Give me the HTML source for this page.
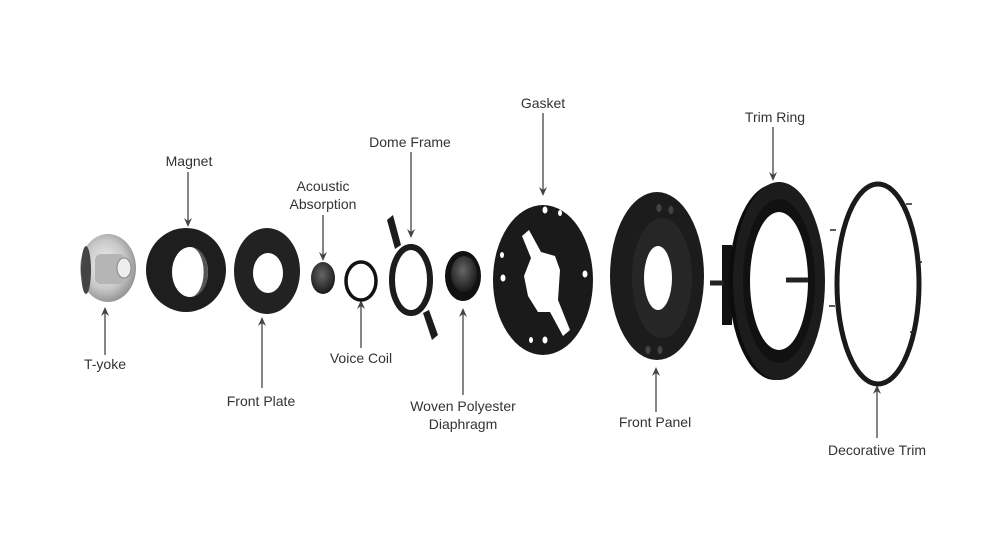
<!DOCTYPE html>
<html><head><meta charset="utf-8"><style>
html,body{margin:0;padding:0;background:#fff;width:1000px;height:541px;overflow:hidden}
svg text{font-family:"Liberation Sans",sans-serif;font-size:14px;fill:#333;text-anchor:middle}
</style></head><body>
<svg width="1000" height="541" viewBox="0 0 1000 541" xmlns="http://www.w3.org/2000/svg">
<defs>
<radialGradient id="sil" cx="0.45" cy="0.45" r="0.6"><stop offset="0" stop-color="#f2f2f2"/><stop offset="0.6" stop-color="#c8c8c8"/><stop offset="1" stop-color="#8a8a8a"/></radialGradient>
<radialGradient id="dome" cx="0.45" cy="0.4" r="0.6"><stop offset="0" stop-color="#666"/><stop offset="1" stop-color="#1a1a1a"/></radialGradient>
</defs>
<g stroke="#444" stroke-width="1.3" fill="none">
<line x1="105" y1="355" x2="105" y2="312"/>
<line x1="188" y1="172" x2="188" y2="222"/>
<line x1="262" y1="388" x2="262" y2="322"/>
<line x1="323" y1="215" x2="323" y2="256"/>
<line x1="361" y1="348" x2="361" y2="305"/>
<line x1="411" y1="152" x2="411" y2="233"/>
<line x1="463" y1="395" x2="463" y2="313"/>
<line x1="543" y1="113" x2="543" y2="191"/>
<line x1="656" y1="412" x2="656" y2="372"/>
<line x1="773" y1="127" x2="773" y2="176"/>
<line x1="877" y1="438" x2="877" y2="390"/>
</g>
<g fill="#444">
<path d="M101,316 L105,307 L109,316 L105,313Z"/>
<path d="M184,218 L188,227 L192,218 L188,221Z"/>
<path d="M258,326 L262,317 L266,326 L262,323Z"/>
<path d="M319,252 L323,261 L327,252 L323,255Z"/>
<path d="M357,309 L361,300 L365,309 L361,306Z"/>
<path d="M407,229 L411,238 L415,229 L411,232Z"/>
<path d="M459,317 L463,308 L467,317 L463,314Z"/>
<path d="M539,187 L543,196 L547,187 L543,190Z"/>
<path d="M652,376 L656,367 L660,376 L656,373Z"/>
<path d="M769,172 L773,181 L777,172 L773,175Z"/>
<path d="M873,394 L877,385 L881,394 L877,391Z"/>
</g>
<!-- T-yoke -->
<ellipse cx="108" cy="268" rx="28" ry="34" fill="url(#sil)"/>
<ellipse cx="86" cy="270" rx="5" ry="24" fill="#444"/>
<rect x="95" y="254" width="30" height="30" rx="6" fill="#b5b5b5"/>
<ellipse cx="124" cy="268" rx="7" ry="10" fill="#eee" stroke="#888"/>
<!-- Magnet -->
<ellipse cx="186" cy="270" rx="40" ry="42" fill="#1e1e1e"/>
<ellipse cx="190" cy="272" rx="18" ry="25" fill="#fff"/>
<path d="M190,247 A18,25 0 0 1 190,297 A12,22 0 0 0 190,247Z" fill="#555"/>
<!-- Front plate -->
<ellipse cx="267" cy="271" rx="33" ry="43" fill="#222"/>
<ellipse cx="268" cy="273" rx="15" ry="20" fill="#fff"/>
<!-- Acoustic -->
<ellipse cx="323" cy="278" rx="12" ry="16" fill="url(#dome)"/>
<!-- Voice coil -->
<ellipse cx="361" cy="281" rx="15" ry="19" fill="none" stroke="#111" stroke-width="3.5"/>
<!-- Dome frame -->
<path d="M387,220 L393,215 L401,245 L395,249 Z" fill="#1c1c1c"/>
<path d="M423,313 L429,310 L438,335 L432,340 Z" fill="#1c1c1c"/>
<ellipse cx="411" cy="280" rx="19" ry="33" fill="none" stroke="#1c1c1c" stroke-width="6"/>
<!-- Diaphragm -->
<ellipse cx="463" cy="276" rx="18" ry="25" fill="#111"/>
<ellipse cx="464" cy="274" rx="13" ry="18" fill="url(#dome)"/>
<!-- Gasket -->
<ellipse cx="543" cy="280" rx="50" ry="75" fill="#1a1a1a"/>
<path d="M522,236 L529,230 L541,252 L555,256 L560,270 L558,300 L570,330 L563,336 L550,312 L538,312 L528,296 L524,276 L531,258 Z" fill="#fff"/>
<g fill="#fff"><ellipse cx="545" cy="210" rx="2.5" ry="3.5"/><ellipse cx="560" cy="213" rx="2" ry="3"/><ellipse cx="502" cy="255" rx="2" ry="3"/><ellipse cx="503" cy="278" rx="2.5" ry="3.5"/><ellipse cx="585" cy="274" rx="2.5" ry="3.5"/><ellipse cx="545" cy="340" rx="2.5" ry="3.5"/><ellipse cx="531" cy="340" rx="2" ry="3"/></g>
<!-- Front panel -->
<ellipse cx="657" cy="276" rx="47" ry="84" fill="#1c1c1c"/>
<ellipse cx="662" cy="278" rx="30" ry="60" fill="#262626"/>
<ellipse cx="658" cy="278" rx="14" ry="32" fill="#fff"/>
<g fill="#444"><ellipse cx="659" cy="208" rx="2.5" ry="4"/><ellipse cx="671" cy="210" rx="2.5" ry="4"/><ellipse cx="648" cy="350" rx="2.5" ry="4"/><ellipse cx="660" cy="350" rx="2.5" ry="4"/></g>
<!-- Trim ring -->
<rect x="722" y="245" width="10" height="80" fill="#111"/>
<line x1="710" y1="283" x2="724" y2="283" stroke="#222" stroke-width="5"/>
<ellipse cx="775" cy="282" rx="46" ry="98" fill="#0c0c0c"/>
<ellipse cx="779" cy="281" rx="46" ry="99" fill="#1c1c1c"/>
<ellipse cx="779" cy="281" rx="36" ry="82" fill="#111"/>
<ellipse cx="779" cy="281" rx="29" ry="69" fill="#fff"/>
<line x1="786" y1="280" x2="808" y2="280" stroke="#222" stroke-width="5"/>
<!-- Decorative trim -->
<ellipse cx="878" cy="284" rx="41" ry="100" fill="none" stroke="#1a1a1a" stroke-width="5"/>
<g stroke="#222" stroke-width="1.5"><line x1="836" y1="230" x2="830" y2="230"/><line x1="835" y1="306" x2="829" y2="306"/><line x1="906" y1="204" x2="912" y2="204"/><line x1="916" y1="262" x2="922" y2="262"/><line x1="910" y1="332" x2="916" y2="332"/></g>
<!-- labels -->
<text x="105" y="369">T-yoke</text>
<text x="189" y="166">Magnet</text>
<text x="261" y="406">Front Plate</text>
<text x="323" y="191">Acoustic</text>
<text x="323" y="209">Absorption</text>
<text x="361" y="363">Voice Coil</text>
<text x="410" y="147">Dome Frame</text>
<text x="463" y="411">Woven Polyester</text>
<text x="463" y="429">Diaphragm</text>
<text x="543" y="108">Gasket</text>
<text x="655" y="427">Front Panel</text>
<text x="775" y="122">Trim Ring</text>
<text x="877" y="455">Decorative Trim</text>
</svg>
</body></html>
